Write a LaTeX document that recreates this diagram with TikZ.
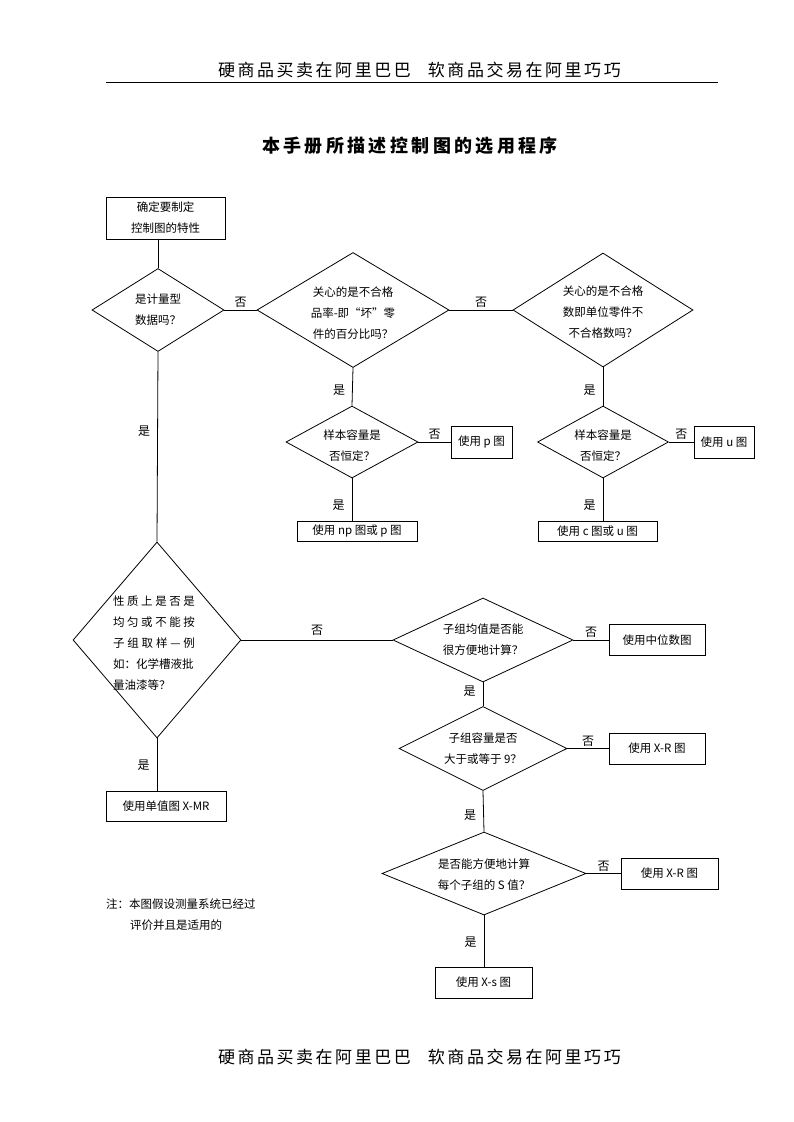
\documentclass[tikz,border=0pt]{standalone}
\usepackage{fontspec}
\setmainfont{Noto Sans CJK SC}
\usetikzlibrary{shapes.geometric}
\tikzset{box/.style={draw, line width=0.8pt, inner sep=0pt, align=center, font=\fontsize{11.5}{21}\selectfont}}
\tikzset{dec/.style={draw, diamond, line width=0.8pt, inner sep=0pt}}
\tikzset{txt/.style={align=center, inner sep=0pt, font=\fontsize{11.5}{21}\selectfont}}
\tikzset{yesno/.style={font=\fontsize{12}{14}\selectfont, inner sep=2pt}}
\tikzset{link/.style={line width=0.8pt}}
\newcommand{\spreadline}[2]{\makebox[#1][s]{#2}}

\begin{document}
\begin{tikzpicture}[x=1pt, y=-1pt]
            \useasboundingbox (0,0) rectangle (793,1122);
            \node[font=\fontsize{17}{20}\selectfont] (head) at (413,70) {\spreadline{390pt}{硬 商 品 买 卖 在 阿 里 巴 巴 \hspace{12pt} 软 商 品 交 易 在 阿 里 巧 巧}};
            \draw [line width=0.8pt] (106,82) -- (718,82);
            \node[font=\fontsize{18}{20}\selectfont\bfseries] (title) at (410,146) {\spreadline{296pt}{本 手 册 所 描 述 控 制 图 的 选 用 程 序}};
            \node[font=\fontsize{17}{20}\selectfont] (foot) at (413,1057) {\spreadline{390pt}{硬 商 品 买 卖 在 阿 里 巴 巴 \hspace{12pt} 软 商 品 交 易 在 阿 里 巧 巧}};

            \node[box, minimum width=119pt, minimum height=42pt] (setup) at (165.5,218) {确定要制定\\控制图的特性};
            \node[dec, minimum width=132pt, minimum height=83pt] (isvar) at (158,310) {};
            \node[txt] (isvart) at (isvar) {是计量型\\数据吗？};
            \node[dec, minimum width=192pt, minimum height=115pt] (isbad) at (353,310) {};
            \node[txt] (isbadt) at (353,313) {关心的是不合格\\品率-即“坏”零\\件的百分比吗？};
            \node[dec, minimum width=180pt, minimum height=114pt] (isdef) at (603,310) {};
            \node[txt] (isdeft) at (603,312) {关心的是不合格\\数即单位零件不\\不合格数吗？};

            \node[dec, minimum width=132pt, minimum height=72pt] (nconsta) at (352,442) {};
            \node[txt] (nconstat) at (352,446) {样本容量是\\否恒定？};
            \node[box, minimum width=61pt, minimum height=32pt] (pchart) at (481.5,442) {使用 p 图};
            \node[box, minimum width=120pt, minimum height=20pt] (npchart) at (357,531) {使用 np 图或 p 图};
            \node[dec, minimum width=131pt, minimum height=72pt] (nconstb) at (603,442) {};
            \node[txt] (nconstbt) at (603,446) {样本容量是\\否恒定？};
            \node[box, minimum width=60pt, minimum height=32pt] (uchart) at (724,442) {使用 u 图};
            \node[box, minimum width=119pt, minimum height=20pt] (cchart) at (597.5,531) {使用 c 图或 u 图};

            \node[dec, minimum width=168pt, minimum height=196pt] (ishomog) at (157,640) {};
            \node[txt, align=left] (ishomogt) at (154,643.5) {\spreadline{82pt}{性 质 上 是 否 是}\\\spreadline{82pt}{均 匀 或 不 能 按}\\\spreadline{82pt}{子 组 取 样 — 例}\\如：化学槽液批\\量油漆等？};
            \node[box, minimum width=120pt, minimum height=30pt] (xmrchart) at (166,806) {使用单值图 X-MR};

            \node[dec, minimum width=180pt, minimum height=84pt] (ismean) at (483,640) {};
            \node[txt] (ismeant) at (483,640) {子组均值是否能\\很方便地计算？};
            \node[box, minimum width=96pt, minimum height=31pt] (medchart) at (657,640) {使用中位数图};
            \node[dec, minimum width=168pt, minimum height=84pt] (isnine) at (483,748.5) {};
            \node[txt] (isninet) at (483,748.5) {子组容量是否\\大于或等于 9？};
            \node[box, minimum width=96pt, minimum height=31pt] (xrchart) at (657,748.5) {使用 X-R 图};
            \node[dec, minimum width=204pt, minimum height=83pt] (iss) at (484,873.5) {};
            \node[txt] (isst) at (484,874.5) {是否能方便地计算\\每个子组的 S 值？};
            \node[box, minimum width=97pt, minimum height=31pt] (xrchartb) at (669.5,873.5) {使用 X-R 图};
            \node[box, minimum width=97pt, minimum height=31pt] (xschart) at (483.5,982.5) {使用 X-s 图};

            \node[txt, align=left, anchor=west] (note) at (106,914.5) {注：本图假设测量系统已经过\\\hspace*{24pt}评价并且是适用的};

            \draw [link] (setup.south -| isvar.north) -- (isvar.north);
            \draw [link] (isvar.east) -- node[yesno, above] (noa) {否} (isbad.west);
            \draw [link] (isbad.east) -- node[yesno, above] (nob) {否} (isdef.west);
            \draw [link] (isbad.south) -- node[yesno, left=5pt, pos=0.6] (yesa) {是} (nconsta.north);
            \draw [link] (nconsta.east) -- node[yesno, above] (noc) {否} (pchart.west);
            \draw [link] (nconsta.south) -- node[yesno, left=5pt, pos=0.63] (yesb) {是} (nconsta.south |- npchart.north);
            \draw [link] (isdef.south) -- node[yesno, left=5pt, pos=0.6] (yesc) {是} (nconstb.north);
            \draw [link] (nconstb.east) -- node[yesno, above] (nod) {否} (uchart.west);
            \draw [link] (nconstb.south) -- node[yesno, left=5pt, pos=0.63] (yesd) {是} (nconstb.south |- cchart.north);
            \draw [link] (isvar.south) -- node[yesno, left=5pt, pos=0.42] (yese) {是} (ishomog.north);
            \draw [link] (ishomog.south) -- node[yesno, left=5pt, pos=0.52] (yesf) {是} (ishomog.south |- xmrchart.north);
            \draw [link] (ishomog.east) -- node[yesno, above=2pt] (noe) {否} (ismean.west);
            \draw [link] (ismean.east) -- node[yesno, above] (nof) {否} (medchart.west);
            \draw [link] (ismean.south) -- node[yesno, left=5pt, pos=0.36] (yesg) {是} (isnine.north);
            \draw [link] (isnine.east) -- node[yesno, above] (nog) {否} (xrchart.west);
            \draw [link] (isnine.south) -- node[yesno, left=5pt, pos=0.6] (yesh) {是} (iss.north);
            \draw [link] (iss.east) -- node[yesno, above] (noh) {否} (xrchartb.west);
            \draw [link] (iss.south) -- node[yesno, left=5pt, pos=0.52] (yesi) {是} (iss.south |- xschart.north);
        \end{tikzpicture}
\end{document}
